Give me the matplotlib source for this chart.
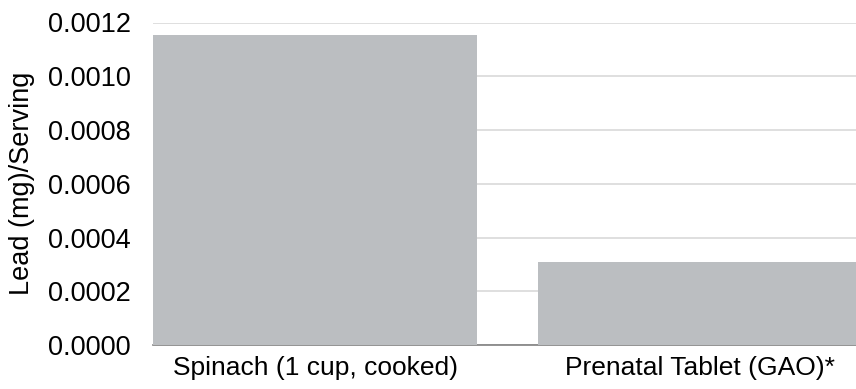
import matplotlib
matplotlib.use("Agg")
import matplotlib.pyplot as plt

# lead content per serving
categories = ["Spinach (1 cup, cooked)", "Prenatal Tablet (GAO)*"]
lead_mg = [0.001153, 0.00031]
yticks = [0.0, 0.0002, 0.0004, 0.0006, 0.0008, 0.0010, 0.0012]

plt.rcParams["font.family"] = ["Liberation Sans", "DejaVu Sans"]

W, H = 856, 389
fig = plt.figure(figsize=(W / 100, H / 100), dpi=100)
ax = fig.add_axes([153 / W, (H - 345) / H, 1 - 153 / W, (345 - 22.5) / H])

bar_w = 0.8416
ax.bar(range(len(categories)), lead_mg, width=bar_w, color="#bbbec1", zorder=2)

ax.set_xlim(-bar_w / 2, -bar_w / 2 + (W - 153) / 385)
ax.set_ylim(0, 0.0012)
ax.set_yticks(yticks)
ax.set_yticklabels([f"{v:.4f}" for v in yticks])
ax.set_xticks(range(len(categories)))
ax.set_xticklabels(categories)

ax.yaxis.grid(True, color="#d9d9d9", linewidth=1.2, zorder=0)
ax.set_axisbelow(True)
for side in ("top", "right", "left"):
    ax.spines[side].set_visible(False)
ax.spines["bottom"].set_color("#808080")
ax.spines["bottom"].set_linewidth(1.2)
ax.spines["bottom"].set_zorder(1)

ax.tick_params(axis="both", length=0, colors="black")
ax.tick_params(axis="y", pad=16, labelsize=19.5)
ax.tick_params(axis="x", pad=8, labelsize=19)
ax.set_ylabel("Lead (mg)/Serving", fontsize=19.5)
ax.yaxis.set_label_coords(-118 / (W - 153), 0.5)

fig.savefig("out.png", dpi=100)
